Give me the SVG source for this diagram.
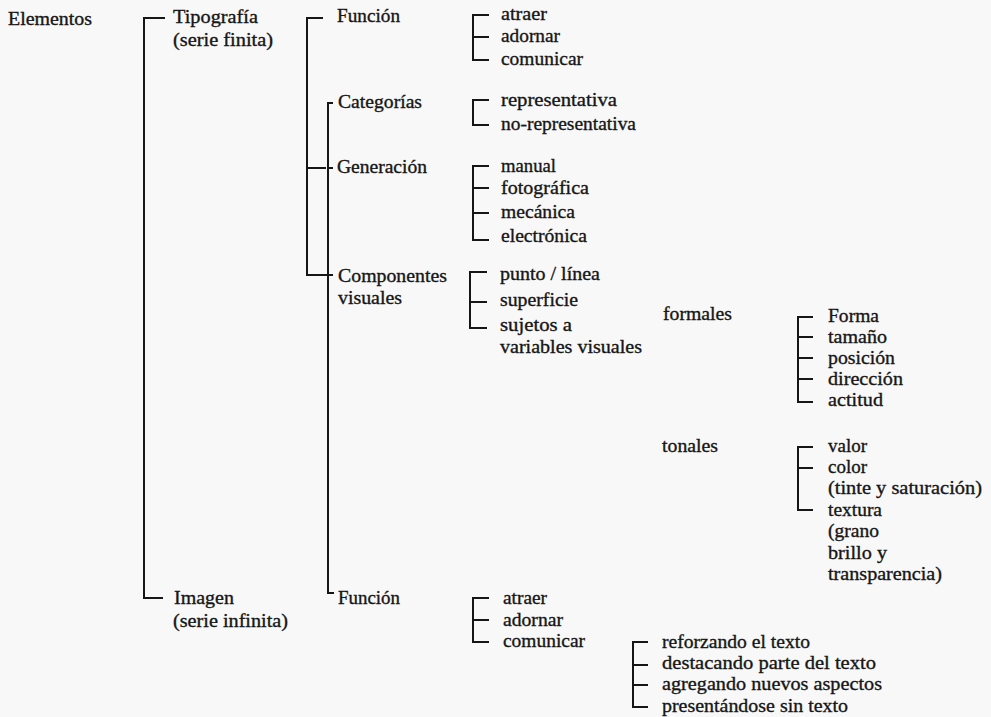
<svg xmlns="http://www.w3.org/2000/svg" width="991" height="717" viewBox="0 0 991 717">
<style>
text{font-family:"Liberation Serif","Times New Roman",serif;font-size:19px;fill:#161616;stroke:#161616;stroke-width:0.35}
.c path{fill:none;stroke:#161616;stroke-width:2}
</style>
<rect width="991" height="717" fill="#f8f8f8"/>
<g class="c" id="connectors">
<path d="M165,18H144V598H163"/>
<path d="M323,18H307V275H328M307,168H326"/>
<path d="M333,103H328V593H334M328,168H333M328,275H333"/>
<path d="M489,15H473V60H489M473,37H489"/>
<path d="M489,100H473V125H489"/>
<path d="M489,166H473V240H489M473,188H489M473,213H489"/>
<path d="M487,272H470V328H487M470,302H487"/>
<path d="M813,317H798V402H813M798,337H813M798,358H813M798,379H813"/>
<path d="M813,447H798V510H813M798,468H813"/>
<path d="M489,598H473V642H489M473,620H489"/>
<path d="M648,642H633V707H648M633,665H648M633,685H648"/>
</g>
<g id="elementos"><text x="8" y="25" textLength="84" lengthAdjust="spacingAndGlyphs">Elementos</text></g>
<g id="tipografia"><text x="173" y="23" textLength="85" lengthAdjust="spacingAndGlyphs">Tipografía</text><text x="173" y="46" textLength="100" lengthAdjust="spacingAndGlyphs">(serie finita)</text></g>
<g id="funcion1"><text x="337" y="22" textLength="63" lengthAdjust="spacingAndGlyphs">Función</text></g>
<g id="f1-atraer"><text x="501" y="20" textLength="46" lengthAdjust="spacingAndGlyphs">atraer</text></g>
<g id="f1-adornar"><text x="501" y="42" textLength="59" lengthAdjust="spacingAndGlyphs">adornar</text></g>
<g id="f1-comunicar"><text x="501" y="65" textLength="82" lengthAdjust="spacingAndGlyphs">comunicar</text></g>
<g id="categorias"><text x="338" y="108" textLength="84" lengthAdjust="spacingAndGlyphs">Categorías</text></g>
<g id="representativa"><text x="501" y="106" textLength="116" lengthAdjust="spacingAndGlyphs">representativa</text></g>
<g id="no-representativa"><text x="501" y="130" textLength="135" lengthAdjust="spacingAndGlyphs">no-representativa</text></g>
<g id="generacion"><text x="337" y="173" textLength="90" lengthAdjust="spacingAndGlyphs">Generación</text></g>
<g id="manual"><text x="501" y="172" textLength="55" lengthAdjust="spacingAndGlyphs">manual</text></g>
<g id="fotografica"><text x="501" y="194" textLength="88" lengthAdjust="spacingAndGlyphs">fotográfica</text></g>
<g id="mecanica"><text x="501" y="218" textLength="74" lengthAdjust="spacingAndGlyphs">mecánica</text></g>
<g id="electronica"><text x="501" y="242" textLength="86" lengthAdjust="spacingAndGlyphs">electrónica</text></g>
<g id="componentes"><text x="338" y="282" textLength="109" lengthAdjust="spacingAndGlyphs">Componentes</text><text x="338" y="304" textLength="64" lengthAdjust="spacingAndGlyphs">visuales</text></g>
<g id="punto-linea"><text x="500" y="280" textLength="100" lengthAdjust="spacingAndGlyphs">punto / línea</text></g>
<g id="superficie"><text x="500" y="306" textLength="78" lengthAdjust="spacingAndGlyphs">superficie</text></g>
<g id="sujetos"><text x="500" y="331" textLength="72" lengthAdjust="spacingAndGlyphs">sujetos a</text><text x="500" y="353" textLength="142" lengthAdjust="spacingAndGlyphs">variables visuales</text></g>
<g id="formales"><text x="663" y="320" textLength="69" lengthAdjust="spacingAndGlyphs">formales</text></g>
<g id="forma"><text x="828" y="322" textLength="51" lengthAdjust="spacingAndGlyphs">Forma</text></g>
<g id="tamano"><text x="828" y="343" textLength="59" lengthAdjust="spacingAndGlyphs">tamaño</text></g>
<g id="posicion"><text x="828" y="364" textLength="67" lengthAdjust="spacingAndGlyphs">posición</text></g>
<g id="direccion"><text x="828" y="385" textLength="75" lengthAdjust="spacingAndGlyphs">dirección</text></g>
<g id="actitud"><text x="828" y="406" textLength="55" lengthAdjust="spacingAndGlyphs">actitud</text></g>
<g id="tonales"><text x="662" y="452" textLength="56" lengthAdjust="spacingAndGlyphs">tonales</text></g>
<g id="valor"><text x="828" y="452" textLength="39" lengthAdjust="spacingAndGlyphs">valor</text></g>
<g id="color"><text x="828" y="473" textLength="39" lengthAdjust="spacingAndGlyphs">color</text><text x="828" y="494" textLength="154" lengthAdjust="spacingAndGlyphs">(tinte y saturación)</text></g>
<g id="textura"><text x="828" y="516" textLength="54" lengthAdjust="spacingAndGlyphs">textura</text><text x="828" y="537" textLength="51" lengthAdjust="spacingAndGlyphs">(grano</text><text x="828" y="559" textLength="59" lengthAdjust="spacingAndGlyphs">brillo y</text><text x="828" y="580" textLength="114" lengthAdjust="spacingAndGlyphs">transparencia)</text></g>
<g id="imagen"><text x="174" y="604" textLength="60" lengthAdjust="spacingAndGlyphs">Imagen</text><text x="173" y="627" textLength="115" lengthAdjust="spacingAndGlyphs">(serie infinita)</text></g>
<g id="funcion2"><text x="338" y="604" textLength="62" lengthAdjust="spacingAndGlyphs">Función</text></g>
<g id="f2-atraer"><text x="503" y="604" textLength="44" lengthAdjust="spacingAndGlyphs">atraer</text></g>
<g id="f2-adornar"><text x="503" y="626" textLength="60" lengthAdjust="spacingAndGlyphs">adornar</text></g>
<g id="f2-comunicar"><text x="503" y="647" textLength="82" lengthAdjust="spacingAndGlyphs">comunicar</text></g>
<g id="reforzando"><text x="662" y="648" textLength="148" lengthAdjust="spacingAndGlyphs">reforzando el texto</text></g>
<g id="destacando"><text x="662" y="669" textLength="214" lengthAdjust="spacingAndGlyphs">destacando parte del texto</text></g>
<g id="agregando"><text x="662" y="690" textLength="220" lengthAdjust="spacingAndGlyphs">agregando nuevos aspectos</text></g>
<g id="presentandose"><text x="662" y="712" textLength="186" lengthAdjust="spacingAndGlyphs">presentándose sin texto</text></g>
</svg>
